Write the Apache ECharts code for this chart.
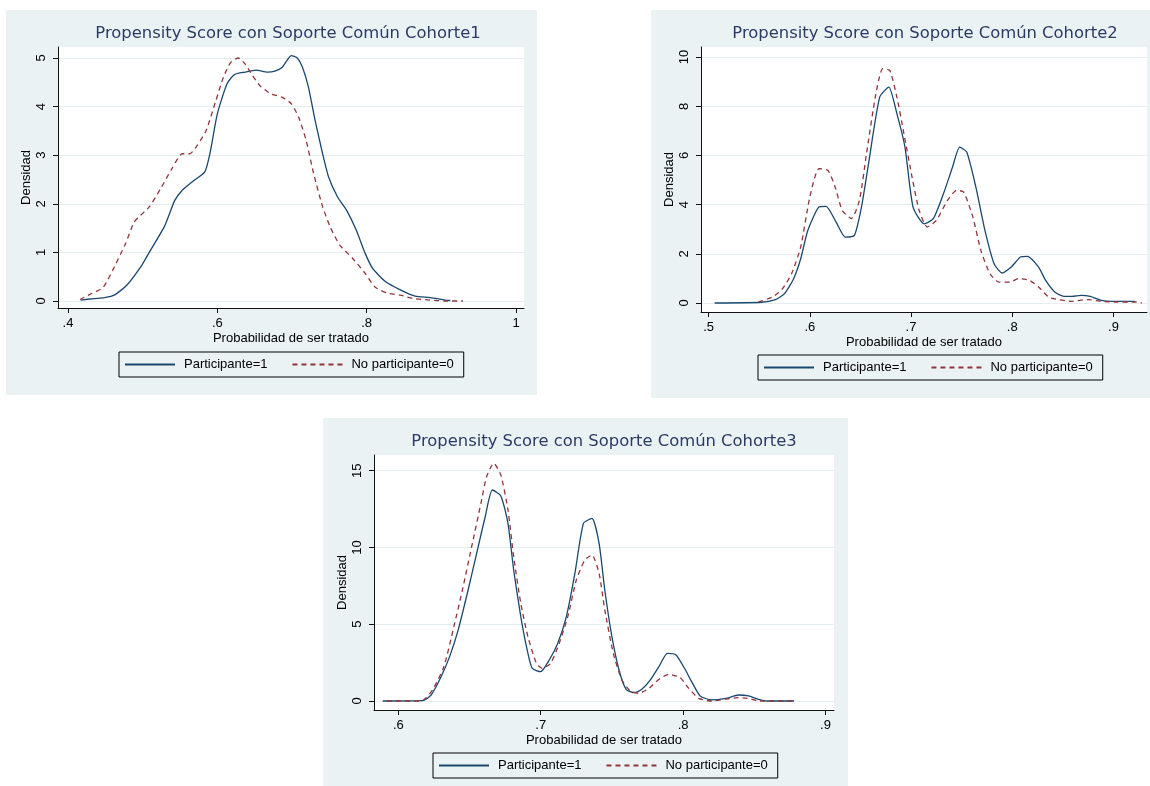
<!DOCTYPE html>
<html>
<head>
<meta charset="utf-8">
<title>Propensity Score con Soporte Común</title>
<script src="https://cdn.jsdelivr.net/npm/echarts@6/dist/echarts.min.js"></script>
<style>
  html, body { margin: 0; padding: 0; background: #ffffff; }
  #chart { width: 1150px; height: 786px; }
</style>
</head>
<body>
<div id="chart"></div>
<script>
// ---- data ----
const seriesNames = ['Participante=1', 'No participante=0'];
const panelTitles = [
  'Propensity Score con Soporte Común Cohorte1',
  'Propensity Score con Soporte Común Cohorte2',
  'Propensity Score con Soporte Común Cohorte3',
];
const xAxisTitle = 'Probabilidad de ser tratado';
const yAxisTitle = 'Densidad';

// Cohorte 1
const c1XTicks = [0.4, 0.6, 0.8, 1];
const c1XLabels = ['.4', '.6', '.8', '1'];
const c1YTicks = [0, 1, 2, 3, 4, 5];
const c1YLabels = ['0', '1', '2', '3', '4', '5'];
const c1Participante = [
  [0.417, 0.02], [0.435, 0.05], [0.449, 0.07], [0.462, 0.12], [0.479, 0.33], [0.499, 0.74],
  [0.508, 0.98], [0.529, 1.53], [0.543, 2.07], [0.553, 2.28], [0.566, 2.45], [0.583, 2.65],
  [0.590, 3.03], [0.600, 3.85], [0.613, 4.47], [0.623, 4.66], [0.637, 4.71], [0.652, 4.75],
  [0.667, 4.71], [0.677, 4.73], [0.687, 4.81], [0.699, 5.05], [0.707, 5.0], [0.714, 4.81],
  [0.722, 4.40], [0.731, 3.71], [0.741, 3.03], [0.749, 2.55], [0.761, 2.14], [0.773, 1.87],
  [0.786, 1.46], [0.798, 0.98], [0.808, 0.67], [0.825, 0.40], [0.845, 0.23], [0.865, 0.10],
  [0.885, 0.07], [0.905, 0.02], [0.912, 0.01],
];
const c1NoParticipante = [
  [0.416, 0.03], [0.430, 0.14], [0.447, 0.28], [0.462, 0.70], [0.477, 1.18], [0.489, 1.63],
  [0.509, 1.94], [0.524, 2.31], [0.539, 2.72], [0.553, 3.03], [0.563, 3.03], [0.573, 3.20],
  [0.585, 3.51], [0.598, 4.12], [0.608, 4.60], [0.618, 4.91], [0.628, 5.0], [0.637, 4.88],
  [0.647, 4.64], [0.657, 4.43], [0.672, 4.26], [0.687, 4.19], [0.699, 4.06], [0.709, 3.78],
  [0.719, 3.30], [0.729, 2.62], [0.741, 1.94], [0.751, 1.53], [0.764, 1.15], [0.781, 0.88],
  [0.798, 0.57], [0.811, 0.29], [0.828, 0.16], [0.845, 0.12], [0.863, 0.05], [0.885, 0.02],
  [0.905, 0.0], [0.929, 0.0],
];

// Cohorte 2
const c2XTicks = [0.5, 0.6, 0.7, 0.8, 0.9];
const c2XLabels = ['.5', '.6', '.7', '.8', '.9'];
const c2YTicks = [0, 2, 4, 6, 8, 10];
const c2YLabels = ['0', '2', '4', '6', '8', '10'];
const c2Participante = [
  [0.506, 0], [0.552, 0.03], [0.566, 0.14], [0.575, 0.38], [0.584, 0.99], [0.591, 1.80],
  [0.598, 2.95], [0.609, 3.90], [0.616, 3.93], [0.626, 3.29], [0.635, 2.68], [0.644, 2.75],
  [0.651, 3.90], [0.658, 5.66], [0.669, 8.37], [0.678, 8.78], [0.686, 7.70], [0.694, 6.34],
  [0.702, 3.90], [0.713, 3.22], [0.722, 3.43], [0.732, 4.44], [0.741, 5.53], [0.748, 6.34],
  [0.755, 6.14], [0.764, 4.72], [0.773, 2.95], [0.782, 1.60], [0.790, 1.22], [0.799, 1.46],
  [0.808, 1.87], [0.815, 1.90], [0.826, 1.46], [0.833, 0.92], [0.842, 0.45], [0.851, 0.27],
  [0.859, 0.27], [0.868, 0.31], [0.877, 0.27], [0.888, 0.11], [0.898, 0.07], [0.912, 0.07],
  [0.921, 0.07],
];
const c2NoParticipante = [
  [0.549, 0.04], [0.563, 0.24], [0.573, 0.58], [0.582, 1.19], [0.591, 2.28], [0.600, 4.31],
  [0.609, 5.46], [0.618, 5.39], [0.625, 4.72], [0.632, 3.77], [0.641, 3.43], [0.649, 4.17],
  [0.656, 6.07], [0.665, 8.44], [0.672, 9.53], [0.679, 9.46], [0.686, 8.37], [0.693, 6.88],
  [0.701, 5.12], [0.708, 3.77], [0.716, 3.09], [0.725, 3.36], [0.736, 4.17], [0.745, 4.58],
  [0.752, 4.51], [0.761, 3.50], [0.769, 2.14], [0.778, 1.19], [0.787, 0.85], [0.798, 0.85],
  [0.806, 0.99], [0.817, 0.92], [0.826, 0.65], [0.836, 0.24], [0.845, 0.14], [0.859, 0.07],
  [0.874, 0.14], [0.888, 0.07], [0.902, 0.04], [0.923, 0.04], [0.928, 0],
];

// Cohorte 3
const c3XTicks = [0.6, 0.7, 0.8, 0.9];
const c3XLabels = ['.6', '.7', '.8', '.9'];
const c3YTicks = [0, 5, 10, 15];
const c3YLabels = ['0', '5', '10', '15'];
const c3Participante = [
  [0.589, 0], [0.617, 0.02], [0.623, 0.39], [0.630, 1.58], [0.636, 2.89], [0.642, 4.62],
  [0.649, 7.23], [0.655, 9.62], [0.661, 12.0], [0.666, 13.74], [0.672, 13.35], [0.677, 11.57],
  [0.681, 8.53], [0.686, 5.49], [0.690, 3.54], [0.694, 2.13], [0.700, 1.91], [0.706, 2.67],
  [0.712, 3.76], [0.718, 5.49], [0.724, 8.31], [0.730, 11.57], [0.736, 11.89], [0.741, 10.27],
  [0.745, 7.23], [0.750, 4.19], [0.755, 2.02], [0.760, 0.76], [0.766, 0.54], [0.771, 0.76],
  [0.777, 1.37], [0.783, 2.24], [0.789, 3.10], [0.795, 3.00], [0.801, 2.13], [0.806, 1.26],
  [0.812, 0.33], [0.820, 0.07], [0.830, 0.17], [0.839, 0.39], [0.846, 0.33], [0.853, 0.11],
  [0.859, 0], [0.878, 0],
];
const c3NoParticipante = [
  [0.592, 0], [0.616, 0], [0.624, 0.72], [0.632, 2.24], [0.639, 4.84], [0.645, 7.23],
  [0.652, 10.27], [0.658, 12.87], [0.662, 14.61], [0.667, 15.48], [0.672, 14.72], [0.677, 12.44],
  [0.681, 9.40], [0.686, 6.36], [0.691, 4.19], [0.697, 2.45], [0.701, 2.13], [0.707, 2.45],
  [0.713, 3.76], [0.719, 5.49], [0.725, 7.88], [0.731, 9.18], [0.736, 9.51], [0.741, 8.31],
  [0.745, 5.93], [0.751, 3.10], [0.757, 1.37], [0.763, 0.65], [0.769, 0.50], [0.776, 0.82],
  [0.783, 1.41], [0.790, 1.74], [0.798, 1.52], [0.803, 0.93], [0.811, 0.17], [0.820, 0],
  [0.830, 0.13], [0.839, 0.22], [0.847, 0.15], [0.853, 0], [0.878, 0],
];

// ---- layout (pixels) ----
const FONT = '"Liberation Sans", Arial, sans-serif';
const TITLE_FONT = '"DejaVu Sans", sans-serif';
const BLUE = '#1a476f';
const RED = '#90353b';
const PANEL_BG = '#eaf2f3';
const GRID_LINE = '#e4eef0';

const panels = [
  {
    bg: [6, 10, 531, 385],
    grid: { left: 58, top: 47, width: 466, height: 261 },
    xRange: [0.3866, 1.0107], yRange: [-0.144, 5.226],
    xTicks: c1XTicks, xLabels: c1XLabels, yTicks: c1YTicks, yLabels: c1YLabels,
    data: [c1Participante, c1NoParticipante],
    titleX: 288, titleY: 21, legend: { left: 119, top: 352 },
  },
  {
    bg: [651, 10, 499, 388],
    grid: { left: 701, top: 47, width: 446, height: 265 },
    xRange: [0.4925, 0.9331], yRange: [-0.366, 10.41],
    xTicks: c2XTicks, xLabels: c2XLabels, yTicks: c2YTicks, yLabels: c2YLabels,
    data: [c2Participante, c2NoParticipante],
    titleX: 925, titleY: 21, legend: { left: 758, top: 355 },
  },
  {
    bg: [323, 418, 525, 368],
    grid: { left: 374, top: 455, width: 460, height: 255 },
    xRange: [0.5829, 0.906], yRange: [-0.586, 16.02],
    xTicks: c3XTicks, xLabels: c3XLabels, yTicks: c3YTicks, yLabels: c3YLabels,
    data: [c3Participante, c3NoParticipante],
    titleX: 604, titleY: 429, legend: { left: 433, top: 753 },
  },
];

function labelFor(ticks, labels) {
  return (v) => {
    const i = ticks.findIndex((t) => Math.abs(t - v) < 1e-9);
    return i >= 0 ? labels[i] : '';
  };
}

const axisLine = { onZero: false, lineStyle: { color: '#111', width: 1 } };
const tickStyle = { color: '#111', width: 1 };
const labelStyle = { color: '#000', fontSize: 13, fontFamily: FONT };

const option = {
  animation: false,
  backgroundColor: '#ffffff',
  graphic: panels.map((p) => ({
    type: 'rect',
    silent: true,
    z: -100,
    shape: { x: p.bg[0], y: p.bg[1], width: p.bg[2], height: p.bg[3] },
    style: { fill: PANEL_BG },
  })),
  title: panels.map((p, i) => ({
    text: panelTitles[i],
    left: p.titleX - 5,
    top: p.titleY,
    textAlign: 'center',
    textStyle: { fontFamily: TITLE_FONT, fontSize: 16.4, fontWeight: 'normal', color: '#2c3b66' },
  })),
  grid: panels.map((p) => ({
    ...p.grid,
    show: true,
    backgroundColor: '#ffffff',
    borderWidth: 0,
  })),
  xAxis: panels.map((p, i) => ({
    type: 'value',
    gridIndex: i,
    min: p.xRange[0],
    max: p.xRange[1],
    name: xAxisTitle,
    nameLocation: 'middle',
    nameGap: 24,
    nameTextStyle: { ...labelStyle },
    axisLine,
    axisTick: { show: true, length: 5, customValues: p.xTicks, lineStyle: tickStyle },
    axisLabel: { customValues: p.xTicks, formatter: labelFor(p.xTicks, p.xLabels), margin: 9, ...labelStyle },
    splitLine: { show: false },
  })),
  yAxis: panels.map((p, i) => ({
    type: 'value',
    gridIndex: i,
    min: p.yRange[0],
    max: p.yRange[1],
    name: yAxisTitle,
    nameLocation: 'middle',
    nameRotate: 90,
    nameGap: 25,
    nameTextStyle: { ...labelStyle },
    axisLine,
    axisTick: { show: true, length: 5, customValues: p.yTicks, lineStyle: tickStyle },
    axisLabel: { customValues: p.yTicks, formatter: labelFor(p.yTicks, p.yLabels), rotate: 90, margin: 10, ...labelStyle },
    splitLine: { show: true, lineStyle: { color: GRID_LINE, width: 1 } },
  })),
  legend: panels.map((p) => ({
    data: seriesNames,
    left: p.legend.left,
    top: p.legend.top,
    orient: 'horizontal',
    selectedMode: false,
    borderColor: '#000',
    borderWidth: 1,
    borderRadius: 0,
    padding: [6, 10, 6, 5],
    itemWidth: 50,
    itemHeight: 12,
    itemGap: 24,
    // line-only legend keys, no marker symbol
    itemStyle: { opacity: 0 },
    textStyle: { color: '#000', fontSize: 13, fontFamily: FONT, padding: [0, 0, 0, 4] },
  })),
  series: [],
};

panels.forEach((p, i) => {
  seriesNames.forEach((name, k) => {
    option.series.push({
      type: 'line',
      name,
      xAxisIndex: i,
      yAxisIndex: i,
      data: p.data[k],
      symbol: 'none',
      smooth: 0.2,
      itemStyle: { color: k === 0 ? BLUE : RED },
      lineStyle: { color: k === 0 ? BLUE : RED, width: 1.3, type: k === 0 ? 'solid' : [5, 4] },
    });
  });
});

const chart = echarts.init(document.getElementById('chart'));
chart.setOption(option);
</script>
</body>
</html>
